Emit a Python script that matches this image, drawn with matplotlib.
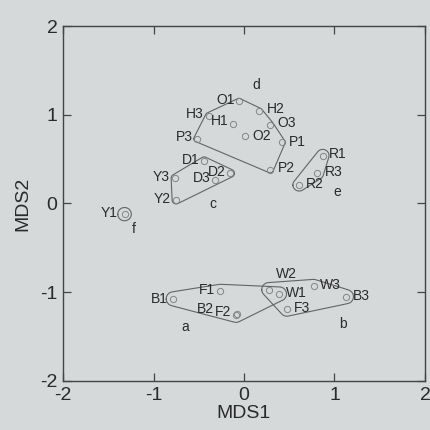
import numpy as np
import matplotlib.pyplot as plt

# sample coordinates
names = ['O1', 'H2', 'H3', 'H1', 'O3', 'O2', 'P1', 'P3', 'P2',
         'R1', 'R3', 'R2', 'D1', 'D2', 'D3', 'Y3', 'Y2', 'Y1',
         'B1', 'F1', 'B2', 'F2', 'W2', 'W1', 'W3', 'B3', 'F3']
mds1 = [-0.055, 0.17, -0.39, -0.12, 0.29, 0.015, 0.42, -0.52, 0.29,
        0.87, 0.81, 0.61, -0.44, -0.15, -0.32, -0.76, -0.75, -1.32,
        -0.78, -0.26, -0.09, -0.08, 0.276, 0.39, 0.77, 1.13, 0.475]
mds2 = [1.15, 1.04, 0.99, 0.90, 0.89, 0.755, 0.69, 0.73, 0.38,
        0.54, 0.34, 0.21, 0.48, 0.34, 0.26, 0.285, 0.04, -0.12,
        -1.074, -0.99, -1.26, -1.25, -0.97, -1.02, -0.935, -1.05, -1.19]

groups = {
    'a': ['B1', 'F1', 'B2', 'F2', 'W1'],
    'b': ['W2', 'W1', 'W3', 'B3', 'F3'],
    'c': ['D1', 'D2', 'D3', 'Y3', 'Y2'],
    'd': ['O1', 'O2', 'O3', 'H1', 'H2', 'H3', 'P1', 'P2', 'P3'],
    'e': ['R1', 'R2', 'R3'],
    'f': ['Y1'],
}

# layout / style (not data)
label_off = {  # text offset from marker, in points
    'O1': (-10, 1), 'H2': (12, 1.5), 'H3': (-10, 1), 'H1': (-10, 1.6),
    'O3': (12, 1), 'O2': (12, 0.3), 'P1': (11, 0.3), 'P3': (-9, 1.2),
    'P2': (11.5, 1.2), 'R1': (11, 1), 'R3': (11.5, 0.7), 'R2': (11.3, 0.7),
    'D1': (-10, 0.5), 'D2': (-9.6, 1), 'D3': (-9.8, 1.6), 'Y3': (-10.3, 0.7),
    'Y2': (-9.9, 0.7), 'Y1': (-11, 1), 'B1': (-10.5, 0), 'F1': (-9.8, 0.7),
    'B2': (-22, 4.6), 'F2': (-9.6, 1.5), 'W2': (12.7, 11.5), 'W1': (12.5, 0.7),
    'W3': (12, 0.7), 'B3': (10.8, 0.5), 'F3': (10.6, 1),
}
group_txt = {'a': (-0.65, -1.39), 'b': (1.09, -1.36), 'c': (-0.34, -0.01),
             'd': (0.14, 1.33), 'e': (1.035, 0.13), 'f': (-1.215, -0.285)}
group_pad = {'a': 0.08, 'b': 0.08, 'c': 0.045, 'd': 0.035, 'e': 0.07, 'f': 0.075}

BG = '#d5d9d9'
INK = '#2a2a2a'


def rounded_hull(xs, ys, pad, n=48):
    t = np.linspace(0, 2 * np.pi, n, endpoint=False)
    px = (np.asarray(xs)[:, None] + pad * np.cos(t)).ravel()
    py = (np.asarray(ys)[:, None] + pad * np.sin(t)).ravel()
    pts = sorted(set(zip(px.round(6), py.round(6))))

    def cross(o, a, b):
        return (a[0] - o[0]) * (b[1] - o[1]) - (a[1] - o[1]) * (b[0] - o[0])

    lower, upper = [], []
    for p in pts:
        while len(lower) >= 2 and cross(lower[-2], lower[-1], p) <= 0:
            lower.pop()
        lower.append(p)
    for p in reversed(pts):
        while len(upper) >= 2 and cross(upper[-2], upper[-1], p) <= 0:
            upper.pop()
        upper.append(p)
    hull = np.array(lower[:-1] + upper[:-1])
    # a few chaikin passes to round the straight runs a little
    for _ in range(3):
        nxt = np.roll(hull, -1, axis=0)
        q = 0.75 * hull + 0.25 * nxt
        r = 0.25 * hull + 0.75 * nxt
        hull = np.empty((2 * len(q), 2))
        hull[0::2], hull[1::2] = q, r
    return np.vstack([hull, hull[:1]])


def main():
    plt.rcParams['font.family'] = ['Liberation Sans', 'DejaVu Sans']
    plt.rcParams['axes.unicode_minus'] = False
    fig = plt.figure(figsize=(4.31, 4.30), dpi=100, facecolor=BG)
    ax = fig.add_axes([0.1462, 0.114, 0.8398, 0.8255])
    ax.set_facecolor(BG)

    pos = {n: (x, y) for n, x, y in zip(names, mds1, mds2)}

    for g, members in groups.items():
        xs = [pos[m][0] for m in members]
        ys = [pos[m][1] for m in members]
        h = rounded_hull(xs, ys, group_pad[g])
        ax.plot(h[:, 0], h[:, 1], color='#646464', lw=0.8)
        ax.text(*group_txt[g], g, fontsize=10, color=INK,
                ha='center', va='center')

    ax.plot(mds1, mds2, 'o', ms=4.5, mfc='none', mec='#858585', mew=0.7)
    for n, x, y in zip(names, mds1, mds2):
        ax.annotate(n, (x, y), xytext=label_off[n], textcoords='offset points',
                    fontsize=10, color=INK, ha='center', va='center')

    ax.set_xlim(-2, 2)
    ax.set_ylim(-2, 2)
    ax.set_xticks([-2, -1, 0, 1, 2])
    ax.set_yticks([-2, -1, 0, 1, 2])
    ax.tick_params(direction='in', length=6, width=0.9, color='#444444',
                   top=True, right=True, labelsize=14, labelcolor=INK, pad=4)
    for s in ax.spines.values():
        s.set_color('#444444')
        s.set_linewidth(1.0)
    ax.set_xlabel('MDS1', fontsize=14, color=INK, labelpad=1)
    ax.set_ylabel('MDS2', fontsize=14, color=INK, labelpad=6)

    fig.savefig('out.png', dpi=100, facecolor=BG)


if __name__ == "__main__":
    main()
